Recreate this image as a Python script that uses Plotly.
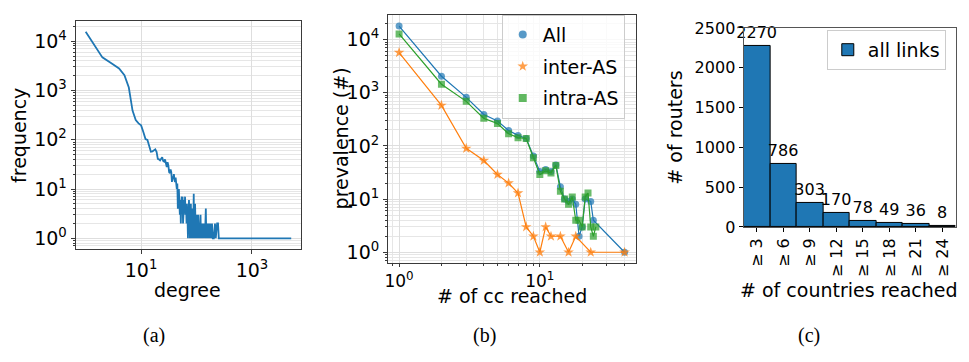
import plotly.graph_objects as go

# ---------------- Panel (a): degree distribution ----------------
degree = [1, 2, 3, 4, 5, 6, 7, 8, 9, 10,
          11, 12, 13, 14, 15, 16, 17, 18, 19, 20,
          21, 22, 23, 24, 25, 26, 27, 28, 29, 30,
          31, 32, 33, 34, 35, 36, 37, 38, 39, 40,
          41, 42, 43, 44, 45, 46, 47, 48, 49, 50,
          51, 52, 53, 54, 55, 56, 57, 58, 59, 60,
          61, 62, 63, 64, 65, 66, 67, 68, 69, 70,
          71, 72, 73, 74, 75, 76, 77, 78, 79, 80,
          81, 82, 83, 84, 85, 86, 88, 89, 90, 91,
          93, 94, 95, 97, 98, 100, 102, 103, 105, 107,
          109, 110, 112, 114, 116, 118, 120, 123, 126, 128,
          131, 135, 138, 142, 147, 150, 155, 160, 166, 170,
          175, 182, 190, 196, 205, 215, 222, 235, 244, 252,
          262, 300, 350, 420, 500, 640, 800, 1100, 1500, 2300, 5100]
frequency = [15600, 4700, 3500, 2800, 2050, 1150, 390, 250, 215, 196,
             142, 103, 99, 75, 57, 58, 60, 64, 57, 41,
             40, 38, 41, 44, 37, 36, 40, 33, 28, 35,
             30, 22, 21, 25, 22, 14, 18, 16, 20, 15,
             14, 17, 12, 10, 13, 4, 9, 10, 5, 3,
             6, 2, 5, 7, 4, 7, 2, 5, 3, 6,
             4, 7, 3, 5, 4, 2, 5, 3, 2, 1,
             4, 3, 6, 2, 4, 1, 3, 2, 5, 1,
             3, 2, 4, 1, 4, 2, 3, 8, 1, 2,
             1, 5, 3, 2, 1, 3, 1, 2, 1, 3,
             1, 2, 1, 2, 1, 3, 1, 2, 1, 2,
             1, 2, 1, 1, 4, 1, 2, 1, 2, 1,
             2, 1, 2, 1, 1, 2, 1, 2, 2, 1,
             1, 1, 1, 1, 1, 1, 1, 1, 1, 1, 1]

# ---------------- Panel (b): prevalence vs # of cc reached ----------------
cc_all = [1, 2, 3, 4, 5, 6, 7, 8, 9, 10, 11, 12, 13, 14, 15, 16, 17, 18, 19, 20, 21, 23, 24, 40]
prev_all = [18000, 2050, 820, 390, 295, 195, 158, 138, 65, 33, 36, 33, 44, 17, 10, 9, 10, 8, 2, 3, 10, 9, 4, 1]

cc_inter = [1, 2, 3, 4, 5, 6, 7, 8, 9, 10, 11, 12, 14, 16, 18, 23, 40]
prev_inter = [5700, 580, 90, 53, 29, 20, 13, 3, 2, 1, 3, 2, 2, 1, 2, 1, 1]

cc_intra = [1, 2, 3, 4, 5, 6, 7, 8, 9, 10, 11, 12, 13, 14, 15, 16, 17, 18, 19, 20, 21, 22, 23, 24, 25]
prev_intra = [12800, 1450, 690, 330, 265, 170, 143, 138, 60, 29, 34, 31, 43, 14, 10, 8, 11, 4, 4, 3, 11, 13, 3, 2, 3]

# ---------------- Panel (c): routers per # of countries ----------------
country_bins = ["≥ 3", "≥ 6", "≥ 9", "≥ 12", "≥ 15", "≥ 18", "≥ 21", "≥ 24"]
routers = [2270, 786, 303, 170, 78, 49, 36, 8]

# log tick labels
log_vals_y = [1, 10, 100, 1000, 10000]
log_text_y = ["10<sup>0</sup>", "10<sup>1</sup>", "10<sup>2</sup>", "10<sup>3</sup>", "10<sup>4</sup>"]
a_xvals = [10, 1000]
a_xtext = ["10<sup>1</sup>", "10<sup>3</sup>"]
b_xvals = [1, 10]
b_xtext = ["10<sup>0</sup>", "10<sup>1</sup>"]

W, H = 969, 362
FONT = "DejaVu Sans"
BLUE, ORANGE, GREEN = "#1f77b4", "#ff7f0e", "#2ca02c"
GRID = "#dedede"
MINOR_GRID = "#e6e6e6"
SPINE = "#3a3a3a"


def fx(p):
    return p / W


def fy(p):
    return 1 - p / H


fig = go.Figure()

# (a)
fig.add_trace(go.Scatter(x=degree, y=frequency, mode="lines",
                         line=dict(color=BLUE, width=1.8),
                         xaxis="x", yaxis="y", showlegend=False))

# (b)
fig.add_trace(go.Scatter(x=cc_all, y=prev_all, mode="lines+markers",
                         line=dict(color=BLUE, width=1.2),
                         marker=dict(symbol="circle", size=7, color="rgba(31,119,180,0.7)"),
                         xaxis="x2", yaxis="y2", showlegend=False))
fig.add_trace(go.Scatter(x=cc_inter, y=prev_inter, mode="lines+markers",
                         line=dict(color=ORANGE, width=1.2),
                         marker=dict(symbol="star", size=8, color="rgba(255,127,14,0.75)"),
                         xaxis="x2", yaxis="y2", showlegend=False))
fig.add_trace(go.Scatter(x=cc_intra, y=prev_intra, mode="lines+markers",
                         line=dict(color=GREEN, width=1.2),
                         marker=dict(symbol="square", size=7, color="rgba(44,160,44,0.7)"),
                         xaxis="x2", yaxis="y2", showlegend=False))
# legend-only entries (markers only, like the reference)
for nm, sym, col, sz in [("All", "circle", "rgba(31,119,180,0.75)", 8),
                         ("inter-AS", "star", "rgba(255,127,14,0.75)", 8),
                         ("intra-AS", "square", "rgba(44,160,44,0.75)", 8)]:
    fig.add_trace(go.Scatter(x=[None], y=[None], mode="markers", name=nm,
                             marker=dict(symbol=sym, size=sz, color=col),
                             xaxis="x2", yaxis="y2", legend="legend", legendgroup=nm))

# (c)
fig.add_trace(go.Bar(x=list(range(len(routers))), y=routers, name="all links",
                     marker=dict(color=BLUE, line=dict(color="black", width=1)),
                     width=1.0, text=[str(v) for v in routers], textposition="outside",
                     constraintext="none",
                     textfont=dict(size=16, color="black", family=FONT),
                     cliponaxis=False, xaxis="x3", yaxis="y3", legend="legend2"))

common_log = dict(type="log", showline=True, mirror=True, linecolor=SPINE, linewidth=1.2,
                  ticks="outside", ticklen=4, tickcolor=SPINE, tickmode="array",
                  showgrid=True, gridcolor=GRID, gridwidth=1, zeroline=False,
                  tickfont=dict(size=19, color="black", family=FONT))

fig.update_layout(
    width=W, height=H, margin=dict(l=0, r=0, t=0, b=0),
    paper_bgcolor="white", plot_bgcolor="white",
    font=dict(family=FONT, color="black"),
    xaxis=dict(common_log, domain=[fx(72), fx(298)], anchor="y",
               range=[-0.18, 3.88], tickvals=a_xvals, ticktext=a_xtext),
    yaxis=dict(common_log, domain=[fy(253), fy(13)], anchor="x",
               range=[-0.212, 4.404], tickvals=log_vals_y, ticktext=log_text_y,
               minor=dict(dtick="D1", showgrid=True, gridcolor=MINOR_GRID, ticks="outside",
                          ticklen=2, tickcolor=SPINE)),
    xaxis2=dict(common_log, domain=[fx(385.7), fx(635)], anchor="y2",
                range=[-0.078, 1.686], tickvals=b_xvals, ticktext=b_xtext, ticklen=3,
                tickfont=dict(size=17, color="black", family=FONT),
                minor=dict(dtick="D1", showgrid=True, gridcolor=MINOR_GRID, ticks="outside",
                           ticklen=2, tickcolor=SPINE)),
    yaxis2=dict(common_log, domain=[fy(268), fy(6)], anchor="x2",
                range=[-0.201, 4.469], tickvals=log_vals_y, ticktext=log_text_y,
                minor=dict(dtick="D1", showgrid=True, gridcolor=MINOR_GRID, ticks="outside",
                           ticklen=2, tickcolor=SPINE)),
    xaxis3=dict(domain=[fx(742.7), fx(955.7)], anchor="y3", range=[-0.5, 7.5],
                tickmode="array", tickvals=list(range(len(country_bins))), ticktext=country_bins,
                tickangle=-90, ticks="outside", ticklen=4, tickcolor="black",
                showline=True, mirror=True, linecolor="#555555", linewidth=1.2,
                showgrid=False, zeroline=False,
                tickfont=dict(size=16, color="black", family=FONT)),
    yaxis3=dict(domain=[fy(230), fy(20)], anchor="x3", range=[0, 2500],
                tickmode="array", tickvals=[0, 500, 1000, 1500, 2000, 2500],
                ticks="outside", ticklen=4, tickcolor="black",
                showline=True, mirror=True, linecolor="#555555", linewidth=1.2,
                showgrid=False, zeroline=False,
                tickfont=dict(size=16, color="black", family=FONT)),
    bargap=0,
    legend=dict(x=fx(623.3), y=fy(6), xanchor="right", yanchor="top",
                bgcolor="rgba(255,255,255,0.8)", bordercolor="#cccccc", borderwidth=1,
                font=dict(size=19, family=FONT, color="black"), tracegroupgap=4,
                itemwidth=30),
    legend2=dict(x=fx(945.7), y=fy(22), xanchor="right", yanchor="top",
                 bgcolor="rgba(255,255,255,0.8)", bordercolor="#cccccc", borderwidth=1,
                 font=dict(size=19, family=FONT, color="black"), itemwidth=30),
)

ann = []
# axis titles
ann.append(dict(text="frequency", x=fx(15), y=fy(133), textangle=-90))
ann.append(dict(text="degree", x=fx(184.5), y=fy(297)))
ann.append(dict(text="prevalence (#)", x=fx(338), y=fy(137), textangle=-90))
ann.append(dict(text="# of cc reached", x=fx(510.3), y=fy(303)))
ann.append(dict(text="# of routers", x=fx(674), y=fy(125), textangle=-90))
ann.append(dict(text="# of countries reached", x=fx(849), y=fy(297)))
for a in ann:
    a.update(xref="paper", yref="paper", showarrow=False, xanchor="center", yanchor="middle",
             font=dict(size=19, family=FONT, color="black"))
# captions
for t, xc in [("(a)", 150.5), ("(b)", 482.5), ("(c)", 808.3)]:
    ann.append(dict(text=t, x=fx(xc), y=fy(345), xref="paper", yref="paper", showarrow=False,
                    xanchor="center", yanchor="middle",
                    font=dict(size=20, family="Liberation Serif", color="black")))
fig.update_layout(annotations=ann)

fig.write_html("out.html")
